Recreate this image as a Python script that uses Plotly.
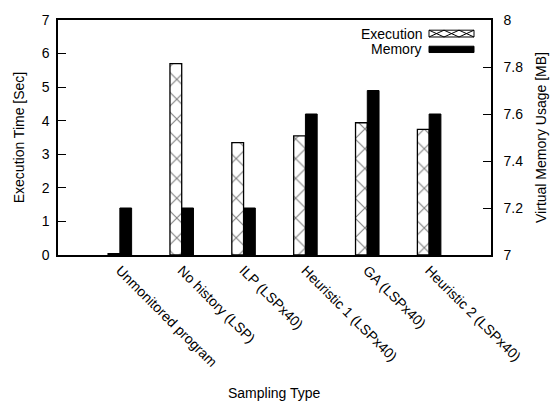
import plotly.graph_objects as go

categories = ["Unmonitored program", "No history (LSP)", "ILP (LSPx40)",
              "Heuristic 1 (LSPx40)", "GA (LSPx40)", "Heuristic 2 (LSPx40)"]
execution_sec = [0.04, 5.70, 3.35, 3.55, 3.94, 3.74]
memory_mb = [7.2, 7.2, 7.2, 7.6, 7.7, 7.6]
left_ticks = [0, 1, 2, 3, 4, 5, 6, 7]
right_ticks = [7, 7.2, 7.4, 7.6, 7.8, 8]

FONT = "Liberation Sans, Arial, Helvetica, sans-serif"
FS = 14

fig = go.Figure()
fig.add_trace(go.Bar(
    x=categories, y=execution_sec, name="Execution",
    offset=-0.19, width=0.19,
    marker=dict(color="white", line=dict(color="black", width=1.3),
                pattern=dict(shape="x", fgcolor="black", bgcolor="white",
                             size=14, solidity=0.15)),
    showlegend=False, yaxis="y"))
fig.add_trace(go.Bar(
    x=categories, y=memory_mb, name="Memory",
    offset=0.0, width=0.19,
    marker=dict(color="black", line=dict(color="black", width=1)),
    showlegend=False, yaxis="y2"))

axis_common = dict(showline=True, linecolor="black", linewidth=1.5,
                   showgrid=False, zeroline=False,
                   tickfont=dict(family=FONT, size=FS, color="black"))

pl, pr, pt, pb = 58.0, 491.0, 13.0, 255.0
def px(x):
    return (x - pl) / (pr - pl)
def py(y):
    return (pb - y) / (pb - pt)

fig.update_layout(
    width=560, height=411,
    margin=dict(l=58, r=69, t=13, b=156),
    paper_bgcolor="white", plot_bgcolor="white",
    font=dict(family=FONT, color="black"),
    xaxis=dict(**axis_common, type="category", range=[-1, 6],
               mirror=True, ticks="", tickangle=45),
    yaxis=dict(**axis_common, range=[0, 7], tickvals=left_ticks,
               ticks="inside", ticklen=8, tickcolor="black",
               ticklabelstandoff=4,
               title=dict(text="Execution Time [Sec]", font=dict(family=FONT, size=FS),
                          standoff=14)),
    yaxis2=dict(**axis_common, range=[7, 8], tickvals=right_ticks,
                ticktext=[("%g" % v) for v in right_ticks],
                overlaying="y", side="right",
                ticks="inside", ticklen=8, tickcolor="black",
                ticklabelstandoff=8,
                title=dict(text="Virtual Memory Usage [MB]", font=dict(family=FONT, size=FS),
                           standoff=14)),
)

fig.add_annotation(x=0.5, y=py(397), xref="paper", yref="paper",
                   text="Sampling Type", showarrow=False, xanchor="center", yanchor="middle",
                   font=dict(family=FONT, size=FS, color="black"))

# custom legend (text on left, key on right)
kx0, kx1 = 429, 474
ey0, ey1 = 23.5, 30.5
my0, my1 = 40, 46.5
fig.add_annotation(x=px(424), y=py((ey0 + ey1) / 2), xref="paper", yref="paper",
                   text="Execution", showarrow=False, xanchor="right", yanchor="middle",
                   font=dict(family=FONT, size=FS, color="black"))
fig.add_annotation(x=px(424), y=py((my0 + my1) / 2), xref="paper", yref="paper",
                   text="Memory", showarrow=False, xanchor="right", yanchor="middle",
                   font=dict(family=FONT, size=FS, color="black"))
path = f"M{px(kx0)},{py(ey0)} L{px(kx1)},{py(ey0)} L{px(kx1)},{py(ey1)} L{px(kx0)},{py(ey1)} Z"
step = (kx1 - kx0) / 3.0
for i in range(3):
    a = kx0 + i * step
    b = a + step
    path += f" M{px(a)},{py(ey0)} L{px(b)},{py(ey1)} M{px(a)},{py(ey1)} L{px(b)},{py(ey0)}"
fig.add_shape(type="path", path=path, xref="paper", yref="paper",
              line=dict(color="black", width=1), fillcolor="rgba(0,0,0,0)")
fig.add_shape(type="rect", xref="paper", yref="paper",
              x0=px(kx0), x1=px(kx1), y0=py(my1), y1=py(my0),
              line=dict(color="black", width=1), fillcolor="black")

fig.write_html("out.html")
